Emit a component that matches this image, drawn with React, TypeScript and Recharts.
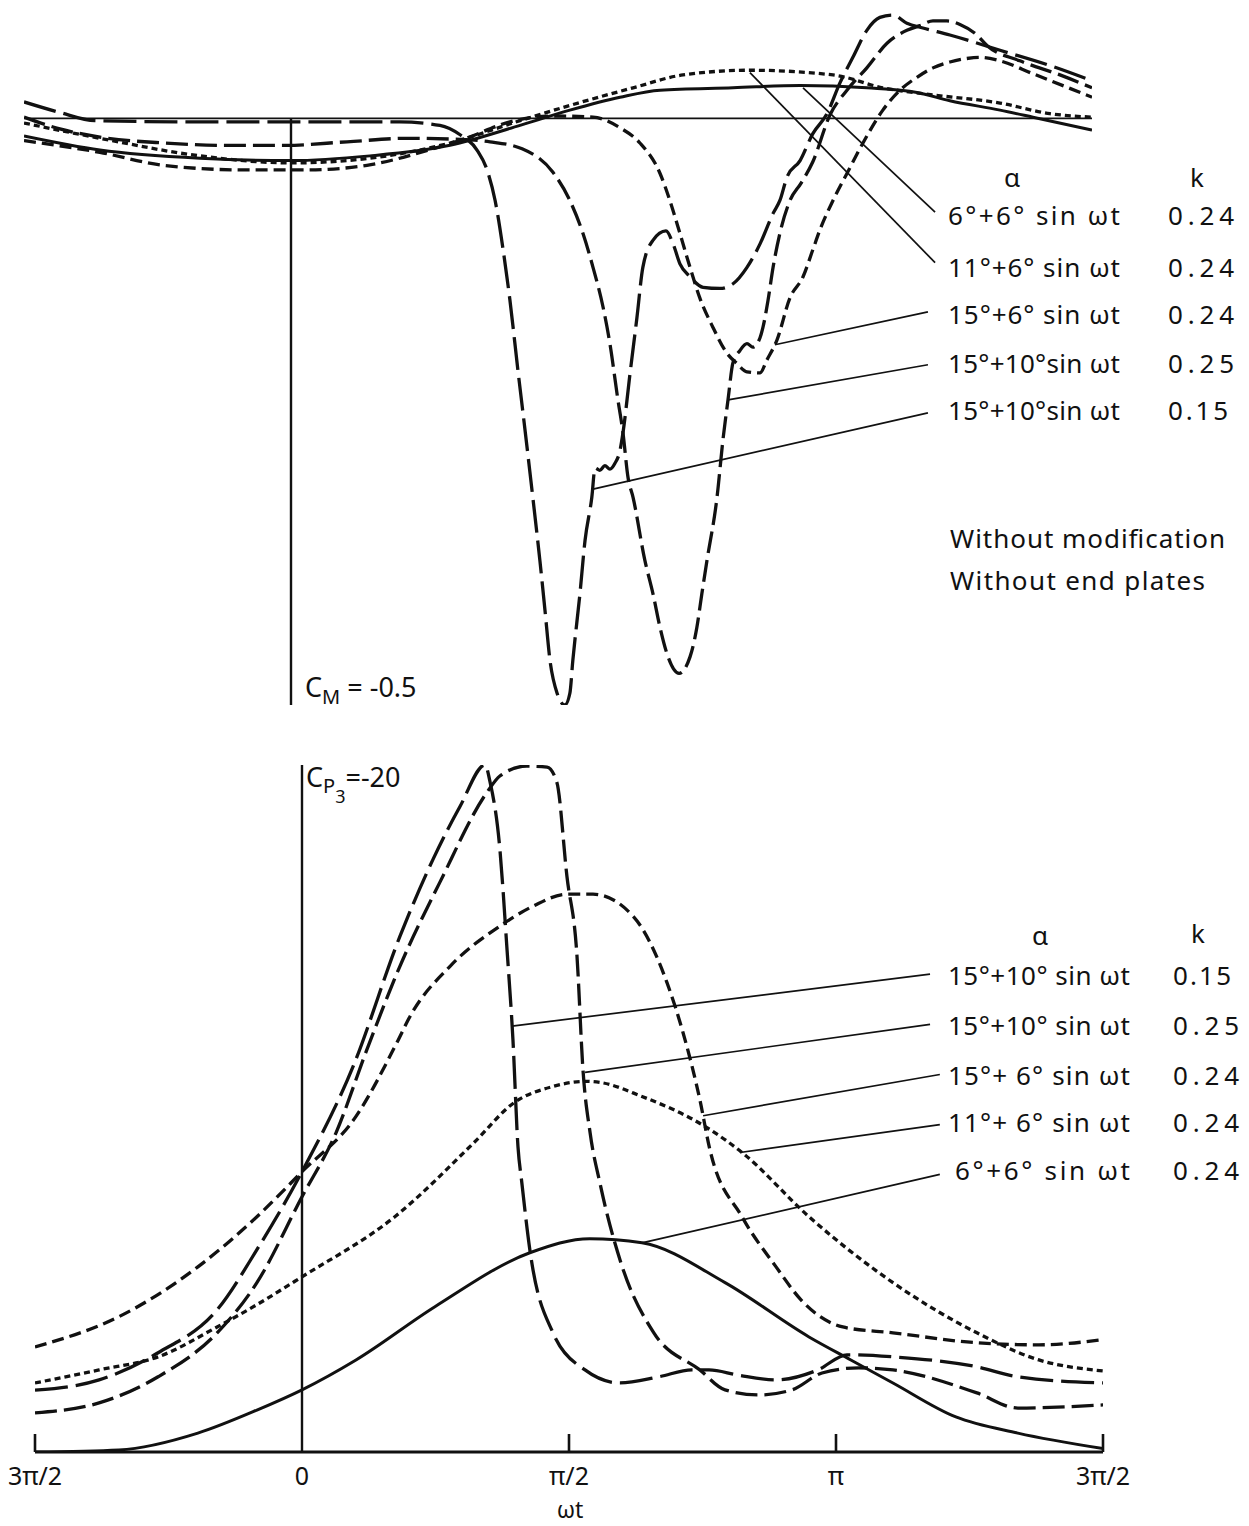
import React from "react";
import { LineChart, Line, XAxis, YAxis, ReferenceLine } from "recharts";

// ωt in degrees (-90 … 270). Upper panel: C_M, lower panel: C_P3.
type Pt = [number, number];

const cmRun66: Pt[] = [[-90,-0.015],[-64.4,-0.027],[-30.7,-0.034],[0,-0.036],[26.6,-0.032],[53.6,-0.023],[77.2,-0.006],[94,0.007],[110.9,0.018],[124.4,0.024],[149,0.026],[171.6,0.028],[194.1,0.026],[211,0.022],[222.1,0.015],[239,0.007],[250.1,0.001],[270,-0.01]];
const cmRun116: Pt[] = [[-90,-0.004],[-64.4,-0.017],[-30.7,-0.032],[0,-0.038],[26.6,-0.034],[53.6,-0.021],[77.2,-0.002],[94,0.011],[115.3,0.026],[132.1,0.037],[154.7,0.041],[182.7,0.037],[199.5,0.026],[216.4,0.02],[239,0.013],[255.8,0.004],[270,0.001]];
const cmRun156: Pt[] = [[-90,-0.019],[-64.4,-0.029],[-43.1,-0.04],[-15.5,-0.044],[5.1,-0.044],[25.6,-0.04],[46.5,-0.027],[59,-0.017],[73.8,-0.003],[88.3,0.002],[101.8,0.001],[110.9,-0.008],[117.6,-0.021],[124.4,-0.047],[127.7,-0.07],[131.1,-0.098],[134.5,-0.127],[137.8,-0.153],[142.2,-0.178],[146.9,-0.2],[150.3,-0.209],[153.7,-0.216],[158.1,-0.217],[160.4,-0.206],[163.8,-0.189],[168.2,-0.153],[172.6,-0.135],[175.9,-0.112],[178.3,-0.095],[182.7,-0.07],[187.4,-0.047],[192.8,-0.021],[199.5,0.007],[205.3,0.024],[211,0.035],[216.4,0.043],[222.1,0.048],[227.8,0.051],[232.2,0.052],[239,0.049],[250.1,0.038],[270,0.018]];
const cmRun1510k25: Pt[] = [[-90,0.001],[-77.9,-0.009],[-64.4,-0.016],[-43.1,-0.021],[-22.6,-0.023],[-1.7,-0.023],[18.9,-0.02],[39.4,-0.017],[57,-0.018],[67.1,-0.02],[77.9,-0.026],[88.3,-0.046],[94,-0.07],[98.4,-0.098],[101.8,-0.127],[105.2,-0.161],[107.5,-0.192],[110.2,-0.24],[111.9,-0.268],[113.6,-0.306],[115.3,-0.323],[119.3,-0.377],[122,-0.405],[124.4,-0.434],[126.7,-0.456],[130.8,-0.473],[134.5,-0.459],[136.8,-0.434],[138.5,-0.405],[140.2,-0.377],[143.6,-0.323],[145.6,-0.274],[147.3,-0.24],[149,-0.208],[151.3,-0.198],[153.7,-0.192],[155.7,-0.195],[158.1,-0.187],[159.1,-0.178],[160.8,-0.155],[162.5,-0.127],[164.8,-0.098],[168.2,-0.07],[172,-0.055],[175.9,-0.037],[181.7,0.003],[187.4,0.024],[194.1,0.043],[200.9,0.064],[207.6,0.075],[212,0.079],[216.4,0.083],[221.1,0.083],[225.5,0.08],[231.2,0.071],[234.6,0.062],[245.7,0.049],[259.2,0.037],[270,0.026]];
const cmRun1510k15: Pt[] = [[-90,0.014],[-77.9,0.005],[-66.1,-0.002],[-30.7,-0.003],[3,-0.003],[36.7,-0.003],[50.2,-0.006],[57,-0.014],[62.7,-0.027],[66.1,-0.044],[68.8,-0.07],[71.5,-0.112],[73.8,-0.155],[76.5,-0.215],[78.9,-0.266],[81.6,-0.325],[83.9,-0.377],[85.6,-0.419],[87.3,-0.462],[89.7,-0.49],[92.3,-0.5],[94,-0.49],[95,-0.462],[97.4,-0.405],[99.1,-0.36],[101.4,-0.323],[102.5,-0.298],[104.1,-0.3],[105.8,-0.296],[107.5,-0.299],[109.2,-0.294],[110.9,-0.283],[111.9,-0.268],[114.3,-0.217],[116.6,-0.17],[118.6,-0.127],[122,-0.104],[126.4,-0.096],[128.8,-0.107],[131.1,-0.124],[134.5,-0.135],[138.9,-0.144],[144.6,-0.145],[149,-0.141],[153.7,-0.127],[158.1,-0.107],[162.5,-0.081],[164.8,-0.07],[167.2,-0.05],[171.6,-0.036],[175.9,-0.013],[180.7,0.004],[185,0.03],[189.4,0.052],[194.1,0.075],[198.5,0.086],[202.9,0.088],[207.6,0.081],[213,0.077],[222.1,0.071],[239,0.058],[255.8,0.045],[270,0.032]];

const cpRun66: Pt[] = [[-90,0],[-61.7,-0.06],[-35.1,-0.55],[-15.2,-1.22],[0,-1.81],[18.2,-2.68],[44.8,-4.23],[76.8,-5.8],[97,-6.21],[114.6,-6.09],[142.6,-4.93],[170.9,-3.35],[185,-2.68],[199.2,-2.01],[220.4,-1.02],[241.3,-0.55],[270,-0.1]];
const cpRun116: Pt[] = [[-90,-2.01],[-68.4,-2.39],[-48.5,-2.77],[-28.6,-3.64],[-15.2,-4.29],[0,-5.1],[31.3,-6.85],[58,-9.01],[71.5,-10.17],[84.6,-10.64],[95.4,-10.79],[100.4,-10.76],[114.6,-10.35],[135.8,-9.48],[148.3,-8.72],[170.9,-6.85],[199.2,-4.93],[227.5,-3.47],[248.4,-2.68],[270,-2.36]];
const cpRun156: Pt[] = [[-90,-3.06],[-61.7,-3.94],[-35.1,-5.39],[-15.2,-6.85],[0,-8.16],[18.2,-9.77],[32,-11.92],[36.4,-12.68],[49.9,-14.14],[66.7,-15.31],[77.9,-15.89],[89.3,-16.24],[98.1,-16.24],[111.6,-15.6],[123,-13.67],[128.4,-12.22],[134.1,-10.26],[137.5,-8.8],[148.3,-6.85],[159.8,-5.39],[168.2,-4.43],[182.3,-3.64],[199.2,-3.47],[227.5,-3.18],[248.4,-3.12],[270,-3.27]];
const cpRun1510k25: Pt[] = [[-90,-1.14],[-68.4,-1.43],[-48.5,-2.19],[-28.6,-3.47],[-15.2,-4.93],[0,-7.43],[11.5,-9.3],[21.9,-11.72],[33,-14.14],[46.5,-16.59],[62.4,-19.21],[66.7,-19.68],[75.8,-19.97],[82.6,-19.94],[85.9,-19.5],[89.3,-16.76],[92.7,-14.43],[94.7,-11.14],[97.1,-9.3],[100.4,-7.84],[107.5,-5.51],[118.6,-3.47],[134.1,-2.39],[142.6,-1.81],[154,-1.66],[165.2,-1.81],[175.3,-2.3],[187.7,-2.45],[199.2,-2.39],[227.5,-1.72],[241.3,-1.28],[270,-1.37]];
const cpRun1510k15: Pt[] = [[-90,-1.8],[-68.4,-2.1],[-48.5,-2.89],[-28.6,-4.14],[-15.2,-5.89],[0,-8.16],[17.2,-11.22],[33,-15.01],[44.2,-17.26],[53.3,-18.8],[61.7,-20],[63.4,-19.5],[66.7,-17.55],[69.1,-14.64],[71.1,-12.01],[72.8,-8.89],[74.1,-7.84],[76.8,-5.89],[84.6,-3.47],[95.4,-2.39],[107.2,-2.01],[120.3,-2.19],[131.4,-2.39],[137.2,-2.39],[147,-2.24],[159.8,-2.1],[173.9,-2.39],[183.7,-2.83],[199.2,-2.77],[227.5,-2.48],[241.3,-2.19],[270,-2.01]];

// legend text
const topAlpha = ["6°+6° sin ωt", "11°+6° sin ωt", "15°+6° sin ωt", "15°+10°sin ωt", "15°+10°sin ωt"];
const topK = ["0.24", "0.24", "0.24", "0.25", "0.15"];
const bottomAlpha = ["15°+10° sin ωt", "15°+10° sin ωt", "15°+ 6° sin ωt", "11°+ 6° sin ωt", "6°+6° sin ωt"];
const bottomK = ["0.15", "0.25", "0.24", "0.24", "0.24"];
const phaseTicks = [-90, 0, 90, 180, 270];
const phaseLabels: Record<number, string> = { [-90]: "3π/2", 0: "0", 90: "π/2", 180: "π", 270: "3π/2" };

// leader lines: [point on curve, end next to the legend text]
const cmLeaders: [Pt, Pt][] = [
  [[172.6, 0.026], [217.1, -0.08]],
  [[154.7, 0.039], [217.1, -0.123]],
  [[163.1, -0.193], [214.7, -0.165]],
  [[147.3, -0.24], [214.7, -0.21]],
  [[101.8, -0.316], [214.7, -0.251]],
];
const cpLeaders: [Pt, Pt][] = [
  [[70.8, -12.4], [211.7, -13.91]],
  [[95.4, -11.05], [211.7, -12.45]],
  [[135.2, -9.79], [215, -10.99]],
  [[147.6, -8.72], [215, -9.53]],
  [[114.6, -6.09], [215, -8.08]],
];

const toRows = (pts: Pt[]) => pts.map(([wt, v]) => ({ wt, v }));

const INK = "#111";
const FONT = "'Noto Sans', 'DejaVu Sans', sans-serif";

// line style per test condition
const styles = {
  a66: { dash: undefined, width: 3 },
  a116: { dash: "6 4", width: 3.3 },
  a156: { dash: "12 6", width: 3.3 },
  k25: { dash: "22 7", width: 3.3 },
  k15: { dash: "33 8", width: 3.3 },
};

const topSeries = [
  { key: "a66", pts: cmRun66 },
  { key: "a116", pts: cmRun116 },
  { key: "a156", pts: cmRun156 },
  { key: "k25", pts: cmRun1510k25 },
  { key: "k15", pts: cmRun1510k15 },
] as const;

const bottomSeries = [
  { key: "a66", pts: cpRun66 },
  { key: "a116", pts: cpRun116 },
  { key: "a156", pts: cpRun156 },
  { key: "k25", pts: cpRun1510k25 },
  { key: "k15", pts: cpRun1510k15 },
] as const;

const PhaseTick = (props: any) => {
  const { x, y, payload } = props;
  const v = payload.value as number;
  return (
    <g>
      {v !== 0 && <line x1={x} x2={x} y1={y} y2={y - 18} stroke={INK} strokeWidth={2.6} />}
      <text x={x} y={y + 33} textAnchor="middle" fontSize={25} fontFamily={FONT} fill={INK}>
        {phaseLabels[v]}
      </text>
    </g>
  );
};

const renderLines = (series: readonly { key: keyof typeof styles; pts: Pt[] }[]) =>
  series.map((s) => (
    <Line
      key={s.key}
      data={toRows(s.pts)}
      dataKey="v"
      type="monotone"
      stroke={INK}
      strokeWidth={styles[s.key].width}
      strokeDasharray={styles[s.key].dash}
      dot={false}
      activeDot={false}
      isAnimationActive={false}
    />
  ));

const renderLeaders = (leaders: [Pt, Pt][]) =>
  leaders.map(([a, b], i) => (
    <ReferenceLine
      key={i}
      segment={[{ x: a[0], y: a[1] }, { x: b[0], y: b[1] }]}
      stroke={INK}
      strokeWidth={1.7}
      ifOverflow="visible"
    />
  ));

export default function App() {
  const txt = { fontFamily: FONT, fontSize: 26, fill: INK } as const;
  const topRowsY = [225, 277, 324, 373, 420];
  const bottomRowsY = [985, 1035, 1085, 1132, 1180];
  return (
    <div style={{ position: "absolute", left: 0, top: 0, width: 1249, height: 1526, background: "#fff" }}>
      {/* pitching moment */}
      <div style={{ position: "absolute", left: 0, top: 0 }}>
        <LineChart width={1249} height={720} margin={{ top: 1, right: 157, bottom: 15, left: 24 }}>
          <XAxis type="number" dataKey="wt" domain={[-90, 270]} hide allowDataOverflow />
          <YAxis type="number" domain={[-0.5, 0.1]} hide allowDataOverflow />
          <ReferenceLine y={0} stroke={INK} strokeWidth={1.7} />
          <ReferenceLine segment={[{ x: 0, y: 0 }, { x: 0, y: -0.5 }]} stroke={INK} strokeWidth={2.4} />
          {renderLines(topSeries)}
          {renderLeaders(cmLeaders)}
        </LineChart>
      </div>

      {/* pressure coefficient */}
      <div style={{ position: "absolute", left: 0, top: 740 }}>
        <LineChart width={1249} height={800} margin={{ top: 25, right: 146, bottom: 28, left: 35 }}>
          <XAxis
            type="number"
            dataKey="wt"
            domain={[-90, 270]}
            ticks={phaseTicks}
            interval={0}
            height={60}
            tickSize={0}
            tickMargin={0}
            tickLine={false}
            tick={<PhaseTick />}
            axisLine={{ stroke: INK, strokeWidth: 2.8 }}
            allowDataOverflow
          />
          <YAxis type="number" domain={[-20, 0]} reversed hide allowDataOverflow />
          <ReferenceLine x={0} stroke={INK} strokeWidth={2.4} />
          {renderLines(bottomSeries)}
          {renderLeaders(cpLeaders)}
        </LineChart>
      </div>

      <svg
        width={1249}
        height={1526}
        style={{ position: "absolute", left: 0, top: 0, pointerEvents: "none" }}
      >
        <text x={305} y={697} {...txt} fontSize={27}>
          C<tspan fontSize={20} dy={7}>M</tspan>
          <tspan dy={-7}> = -0.5</tspan>
        </text>
        <text x={306} y={787} {...txt} fontSize={27}>
          C<tspan fontSize={20} dy={6}>P</tspan>
          <tspan fontSize={18} dy={10}>3</tspan>
          <tspan dy={-16}>=-20</tspan>
        </text>

        <text x={1012} y={187} textAnchor="middle" {...txt}>α</text>
        <text x={1197} y={187} textAnchor="middle" {...txt}>k</text>
        {topAlpha.map((t, i) => (
          <text key={"ta" + i} x={948} y={topRowsY[i]} textLength={172} lengthAdjust="spacing" {...txt}>
            {t}
          </text>
        ))}
        {topK.map((t, i) => (
          <text key={"tk" + i} x={1168} y={topRowsY[i]} textLength={t === "0.15" ? 60 : 66} lengthAdjust="spacing" {...txt}>
            {t}
          </text>
        ))}
        <text x={950} y={548} textLength={275} lengthAdjust="spacing" {...txt}>Without modification</text>
        <text x={950} y={590} textLength={255} lengthAdjust="spacing" {...txt}>Without end plates</text>

        <text x={1040} y={945} textAnchor="middle" {...txt}>α</text>
        <text x={1198} y={943} textAnchor="middle" {...txt}>k</text>
        {bottomAlpha.map((t, i) => (
          <text key={"ba" + i} x={i === 4 ? 955 : 948} y={bottomRowsY[i]} textLength={i === 4 ? 175 : 182} lengthAdjust="spacing" {...txt}>
            {t}
          </text>
        ))}
        {bottomK.map((t, i) => (
          <text key={"bk" + i} x={1173} y={bottomRowsY[i]} textLength={t === "0.15" ? 58 : 66} lengthAdjust="spacing" {...txt}>
            {t}
          </text>
        ))}
        <text x={570} y={1518} textAnchor="middle" {...txt} fontSize={23}>ωt</text>
      </svg>
    </div>
  );
}
